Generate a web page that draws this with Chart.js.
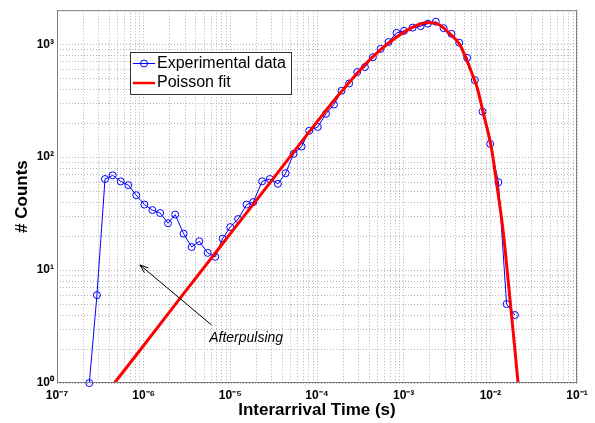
<!DOCTYPE html>
<html>
<head>
<meta charset="utf-8">
<script src="https://cdn.jsdelivr.net/npm/chart.js@4.4.0/dist/chart.umd.min.js"></script>
<style>
  html, body { margin: 0; padding: 0; background: #fff; }
</style>
</head>
<body>
<canvas id="myChart" width="595" height="423"></canvas>
<script>
// experimental histogram (log bins)
const expTime = [
  2.36e-7, 2.89e-7, 3.58e-7, 4.39e-7, 5.43e-7, 6.65e-7, 8.22e-7, 1.02e-6, 1.26e-6, 1.55e-6,
  1.91e-6, 2.31e-6, 2.89e-6, 3.58e-6, 4.38e-6, 5.47e-6, 6.70e-6, 8.15e-6, 9.97e-6, 1.23e-5,
  1.54e-5, 1.84e-5, 2.33e-5, 2.86e-5, 3.54e-5, 4.34e-5, 5.37e-5, 6.64e-5, 8.13e-5, 1.02e-4,
  1.27e-4, 1.57e-4, 1.92e-4, 2.35e-4, 2.91e-4, 3.57e-4, 4.41e-4, 5.42e-4, 6.70e-4, 8.28e-4,
  1.01e-3, 1.27e-3, 1.57e-3, 1.90e-3, 2.35e-3, 2.89e-3, 3.56e-3, 4.37e-3, 5.40e-3, 6.63e-3,
  8.13e-3, 9.95e-3, 1.24e-2, 1.54e-2, 1.92e-2
];
const expCounts = [
  1, 6, 64, 69, 61, 56.5, 46, 38, 34, 32,
  26, 31, 21, 16, 18, 14.2, 13.1, 19, 24, 28.3,
  38, 40, 61, 64, 58, 72, 107, 124, 171, 185,
  242, 292, 387, 449, 567, 627, 767, 908, 1045, 1260,
  1313, 1403, 1443, 1520, 1582, 1386, 1236, 1031, 757, 480,
  253, 131, 60, 5, 4
];

// Poisson fit curve
const fitTime = [
  4.6e-7, 1e-6, 3e-6, 1e-5, 3e-5, 1e-4, 1.8e-4, 4.45e-4, 1.08e-3, 1.9e-3,
  2.6e-3, 3.4e-3, 4.45e-3, 5.3e-3, 6.3e-3, 7e-3, 8.26e-3, 1.03e-2, 1.18e-2, 1.41e-2,
  1.61e-2, 1.83e-2, 2.09e-2
];
const fitCounts = [
  1, 2.15, 6.4, 21, 62, 205, 360, 780, 1320, 1555,
  1480, 1236, 990, 732, 523, 420, 250, 120, 59, 21.6,
  7.9, 2.9, 1
];

const xDecades = [-7, -6, -5, -4, -3, -2, -1];
const xMax = 0.1;
const yDecades = [0, 1, 2, 3];
const yMax = 2000;

const legendLabels = ['Experimental data', 'Poisson fit'];
const noteText = 'Afterpulsing';

const sup = { '-': '\u207B', '0': '\u2070', '1': '\u00B9', '2': '\u00B2', '3': '\u00B3',
  '4': '\u2074', '5': '\u2075', '6': '\u2076', '7': '\u2077', '8': '\u2078', '9': '\u2079' };
const powLabel = e => '10' + String(e).split('').map(c => sup[c]).join('');

// every 1..9 x 10^n up to max, only decades get a label
function logTicks(decs, max) {
  const out = [];
  decs.forEach(e => {
    for (let m = 1; m <= 9; m++) {
      const v = Number((m * Math.pow(10, e)).toPrecision(3));
      if (v > max * 1.0001) break;
      out.push({ value: v, major: m === 1, label: m === 1 ? powLabel(e) : '' });
    }
  });
  return out;
}

const FONT = "'Liberation Sans', Arial, sans-serif";
const gridColor = '#b4b4b4';

const overlay = {
  id: 'overlay',
  afterDatasetsDraw(chart) {
    const { ctx, chartArea: a, scales: { x, y } } = chart;
    ctx.save();

    // arrow + note
    const x1 = x.getPixelForValue(6.08e-6), y1 = y.getPixelForValue(3.26);
    const x2 = x.getPixelForValue(9.06e-7), y2 = y.getPixelForValue(11.1);
    ctx.strokeStyle = '#000';
    ctx.lineWidth = 1;
    ctx.beginPath();
    ctx.moveTo(x1, y1);
    ctx.lineTo(x2, y2);
    const ang = Math.atan2(y1 - y2, x1 - x2);
    ctx.moveTo(x2 + 9 * Math.cos(ang + 0.35), y2 + 9 * Math.sin(ang + 0.35));
    ctx.lineTo(x2, y2);
    ctx.lineTo(x2 + 9 * Math.cos(ang - 0.35), y2 + 9 * Math.sin(ang - 0.35));
    ctx.stroke();
    ctx.fillStyle = '#000';
    ctx.font = 'italic 14px ' + FONT;
    ctx.textAlign = 'left';
    ctx.textBaseline = 'alphabetic';
    ctx.fillText(noteText, x.getPixelForValue(5.7e-6), y.getPixelForValue(2.3));

    // legend box
    ctx.fillStyle = '#fff';
    ctx.fillRect(130, 52, 161, 42);
    ctx.strokeStyle = '#333';
    ctx.strokeRect(130.5, 52.5, 161, 42);
    ctx.lineWidth = 1;
    ctx.strokeStyle = '#0000ff';
    ctx.beginPath();
    ctx.moveTo(133, 63.5); ctx.lineTo(155, 63.5);
    ctx.stroke();
    ctx.beginPath();
    ctx.arc(144, 63.5, 3.5, 0, Math.PI * 2);
    ctx.stroke();
    ctx.strokeStyle = '#ff0000';
    ctx.lineWidth = 2.5;
    ctx.beginPath();
    ctx.moveTo(133, 83); ctx.lineTo(155, 83);
    ctx.stroke();
    ctx.fillStyle = '#000';
    ctx.font = '16px ' + FONT;
    ctx.textBaseline = 'middle';
    ctx.fillText(legendLabels[0], 157, 64);
    ctx.fillText(legendLabels[1], 157, 83);

    // frame
    ctx.strokeStyle = '#808080';
    ctx.lineWidth = 1;
    ctx.strokeRect(a.left + 0.5, a.top + 0.5, a.right - a.left - 1, a.bottom - a.top - 1);
    ctx.restore();
  }
};

const ctx = document.getElementById('myChart').getContext('2d');
new Chart(ctx, {
  type: 'line',
  data: {
    datasets: [
      {
        label: legendLabels[0],
        data: expTime.map((t, i) => ({ x: t, y: expCounts[i] })),
        borderColor: '#0000ff',
        borderWidth: 1,
        pointRadius: 3.5,
        pointBorderWidth: 1,
        pointBorderColor: '#0000ff',
        pointBackgroundColor: 'rgba(0,0,0,0)',
        tension: 0,
        clip: false,
        order: 1
      },
      {
        label: legendLabels[1],
        data: fitTime.map((t, i) => ({ x: t, y: fitCounts[i] })),
        borderColor: '#ff0000',
        borderWidth: 3,
        pointRadius: 0,
        cubicInterpolationMode: 'monotone',
        order: 0
      }
    ]
  },
  options: {
    responsive: false,
    animation: false,
    layout: { padding: { top: 5, right: 18, left: 0, bottom: 0 } },
    plugins: { legend: { display: false }, tooltip: { enabled: false } },
    scales: {
      x: {
        type: 'logarithmic',
        min: 1e-7,
        max: xMax,
        afterBuildTicks: s => { s.ticks = logTicks(xDecades, xMax); },
        afterFit: s => { s.height = 40; },
        grid: { color: gridColor, drawTicks: false },
        border: { display: false, dash: [1, 2] },
        ticks: {
          autoSkip: false, maxRotation: 0, padding: 5,
          color: '#000',
          font: { family: FONT, size: 12, weight: 'bold' },
          callback: (v, i, ticks) => ticks[i].label
        },
        title: {
          display: true, text: 'Interarrival Time (s)', color: '#000',
          font: { family: FONT, size: 17, weight: 'bold' },
          padding: { top: 0, bottom: 2 }
        }
      },
      y: {
        type: 'logarithmic',
        min: 1,
        max: yMax,
        afterBuildTicks: s => { s.ticks = logTicks(yDecades, yMax); },
        afterFit: s => { s.width = 57; },
        grid: { color: gridColor, drawTicks: false },
        border: { display: false, dash: [1, 2] },
        ticks: {
          autoSkip: false, padding: 3,
          color: '#000',
          font: { family: FONT, size: 12, weight: 'bold' },
          callback: (v, i, ticks) => ticks[i].label
        },
        title: {
          display: true, text: '# Counts', color: '#000',
          font: { family: FONT, size: 17, weight: 'bold' },
          padding: { top: 12, bottom: 0 }
        }
      }
    }
  },
  plugins: [overlay]
});
</script>
</body>
</html>
